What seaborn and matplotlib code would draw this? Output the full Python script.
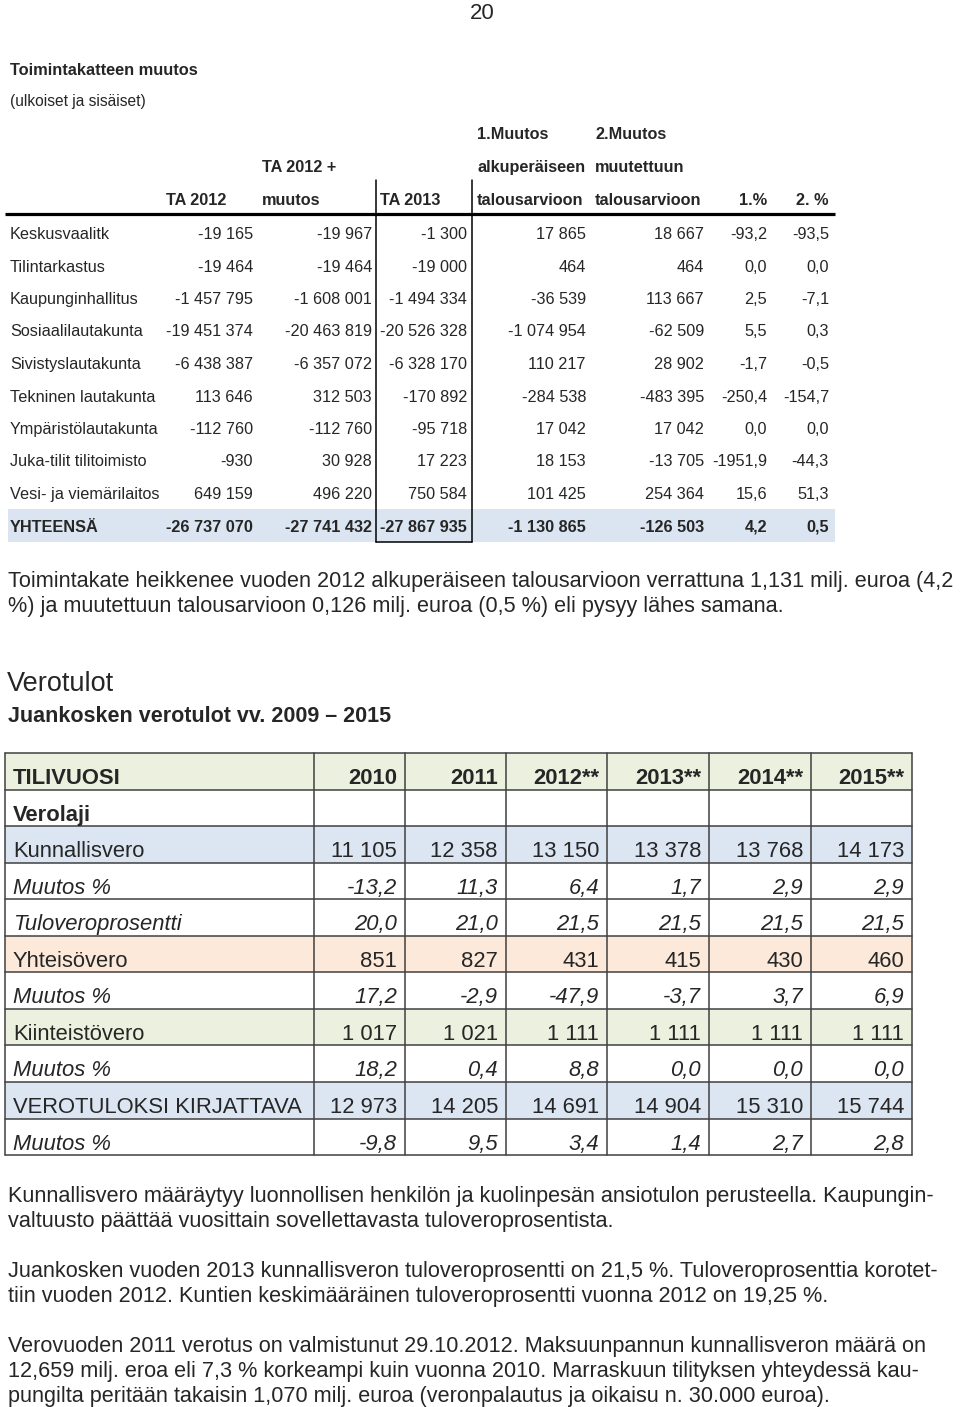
import matplotlib

matplotlib.use('Agg')

import numpy as np
import seaborn as sns
from matplotlib import pyplot as plt
from matplotlib.colors import ListedColormap

sns.set_style('white')
plt.rcParams['font.family'] = ['Liberation Sans', 'DejaVu Sans']

W, H = 960, 1407

# ---- Toimintakatteen muutos ----
labels1 = ["Keskusvaalitk", "Tilintarkastus", "Kaupunginhallitus", "Sosiaalilautakunta",
           "Sivistyslautakunta", "Tekninen lautakunta", "Ympäristölautakunta",
           "Juka-tilit tilitoimisto", "Vesi- ja viemärilaitos", "YHTEENSÄ"]
ta2012 = [-19165, -19464, -1457795, -19451374, -6438387, 113646, -112760, -930, 649159, -26737070]
ta2012_muutos = [-19967, -19464, -1608001, -20463819, -6357072, 312503, -112760, 30928, 496220, -27741432]
ta2013 = [-1300, -19000, -1494334, -20526328, -6328170, -170892, -95718, 17223, 750584, -27867935]
muutos1 = [17865, 464, -36539, -1074954, 110217, -284538, 17042, 18153, 101425, -1130865]
muutos2 = [18667, 464, 113667, -62509, 28902, -483395, 17042, -13705, 254364, -126503]
pct1 = [-93.2, 0.0, 2.5, 5.5, -1.7, -250.4, 0.0, -1951.9, 15.6, 4.2]
pct2 = [-93.5, 0.0, -7.1, 0.3, -0.5, -154.7, 0.0, -44.3, 51.3, 0.5]

# ---- Verotulot ----
years = ["2010", "2011", "2012**", "2013**", "2014**", "2015**"]
kunnallisvero = [11105, 12358, 13150, 13378, 13768, 14173]
kunnallis_muutos = [-13.2, 11.3, 6.4, 1.7, 2.9, 2.9]
tuloveropros = [20.0, 21.0, 21.5, 21.5, 21.5, 21.5]
yhteisovero = [851, 827, 431, 415, 430, 460]
yhteiso_muutos = [17.2, -2.9, -47.9, -3.7, 3.7, 6.9]
kiinteisto = [1017, 1021, 1111, 1111, 1111, 1111]
kiinteisto_muutos = [18.2, 0.4, 8.8, 0.0, 0.0, 0.0]
verotulot = [12973, 14205, 14691, 14904, 15310, 15744]
verotulot_muutos = [-9.8, 9.5, 3.4, 1.4, 2.7, 2.8]

para1 = ["Toimintakate heikkenee vuoden 2012 alkuperäiseen talousarvioon verrattuna 1,131 milj. euroa (4,2",
         "%) ja muutettuun talousarvioon 0,126 milj. euroa (0,5 %) eli pysyy lähes samana."]
para2 = ["Kunnallisvero määräytyy luonnollisen henkilön ja kuolinpesän ansiotulon perusteella. Kaupungin-",
         "valtuusto päättää vuosittain sovellettavasta tuloveroprosentista."]
para3 = ["Juankosken vuoden 2013 kunnallisveron tuloveroprosentti on 21,5 %. Tuloveroprosenttia korotet-",
         "tiin vuoden 2012. Kuntien keskimääräinen tuloveroprosentti vuonna 2012 on 19,25 %."]
para4 = ["Verovuoden 2011 verotus on valmistunut 29.10.2012. Maksuunpannun kunnallisveron määrä on",
         "12,659 milj. eroa eli 7,3 % korkeampi kuin vuonna 2010. Marraskuun tilityksen yhteydessä kau-",
         "pungilta peritään takaisin 1,070 milj. euroa (veronpalautus ja oikaisu n. 30.000 euroa)."]


def fmt_int(v):
    return f"{v:,}".replace(",", " ")


def fmt_pct(v):
    return f"{v:.1f}".replace(".", ",")


def px_axes(fig, x0, y0, x1, y1):
    return fig.add_axes([x0 / W, 1 - y1 / H, (x1 - x0) / W, (y1 - y0) / H])


fig = plt.figure(figsize=(W / 100, H / 100), dpi=100)

# row fills drawn as one-column heatmaps
t1_top, t1_step = 216.5, 32.5
ax_h1 = px_axes(fig, 8, t1_top, 835, t1_top + t1_step * len(labels1))
codes1 = np.array([0] * (len(labels1) - 1) + [1]).reshape(-1, 1)
sns.heatmap(codes1, ax=ax_h1, cmap=ListedColormap(["white", "#dbe5f1"]), vmin=0, vmax=1,
            cbar=False, xticklabels=False, yticklabels=False)

t2_top, t2_row = 753, 36.55
row_labels2 = ["TILIVUOSI", "Verolaji", "Kunnallisvero", "Muutos %", "Tuloveroprosentti",
               "Yhteisövero", "Muutos %", "Kiinteistövero", "Muutos %",
               "VEROTULOKSI KIRJATTAVA", "Muutos %"]
row_values2 = [years, None, kunnallisvero, kunnallis_muutos, tuloveropros, yhteisovero,
               yhteiso_muutos, kiinteisto, kiinteisto_muutos, verotulot, verotulot_muutos]
codes2 = np.array([1, 0, 2, 0, 0, 3, 0, 1, 0, 2, 0]).reshape(-1, 1)
ax_h2 = px_axes(fig, 5, t2_top, 912, t2_top + t2_row * len(row_labels2))
sns.heatmap(codes2, ax=ax_h2, cmap=ListedColormap(["white", "#ebf1de", "#dce6f2", "#fde9d9"]),
            vmin=0, vmax=3, cbar=False, xticklabels=False, yticklabels=False)

# overlay in pixel coordinates
ax = fig.add_axes([0, 0, 1, 1])
ax.set_xlim(0, W)
ax.set_ylim(H, 0)
ax.axis('off')
ax.patch.set_visible(False)

ax.text(482, 19, "20", fontsize=16, ha='center', va='baseline')
ax.text(10, 75, "Toimintakatteen muutos", fontsize=11.8, fontweight='bold', va='baseline')
ax.text(10, 106, "(ulkoiset ja sisäiset)", fontsize=11.2, va='baseline')

fs1 = 11.7
hdr = dict(fontsize=fs1, fontweight='bold', va='baseline')
ax.text(477, 139, "1.Muutos", **hdr)
ax.text(595, 139, "2.Muutos", **hdr)
ax.text(262, 172, "TA 2012 +", **hdr)
ax.text(477, 172, "alkuperäiseen", **hdr)
ax.text(595, 172, "muutettuun", **hdr)
ax.text(166, 205, "TA 2012", **hdr)
ax.text(262, 205, "muutos", **hdr)
ax.text(380, 205, "TA 2013", **hdr)
ax.text(477, 205, "talousarvioon", **hdr)
ax.text(595, 205, "talousarvioon", **hdr)
ax.text(767, 205, "1.%", ha='right', **hdr)
ax.text(829, 205, "2. %", ha='right', **hdr)

ax.plot([5, 835], [214, 214], color='black', lw=2.3, solid_capstyle='butt')
ax.plot([376, 376], [180, 541.5], color='black', lw=1.1)
ax.plot([472, 472], [180, 541.5], color='black', lw=1.1)
ax.plot([376, 472], [541.5, 541.5], color='black', lw=1.1)

cols1 = [(ta2012, 253, fmt_int), (ta2012_muutos, 372, fmt_int), (ta2013, 467, fmt_int),
         (muutos1, 586, fmt_int), (muutos2, 704, fmt_int), (pct1, 767, fmt_pct), (pct2, 829, fmt_pct)]
for i, lab in enumerate(labels1):
    yb = 239 + i * t1_step
    wt = 'bold' if lab == "YHTEENSÄ" else 'normal'
    ax.text(10, yb, lab, fontsize=fs1, fontweight=wt, va='baseline')
    for vals, xr, f in cols1:
        ax.text(xr, yb, f(vals[i]), fontsize=fs1, fontweight=wt, ha='right', va='baseline')

body = dict(fontsize=15.6, va='baseline')
for k, line in enumerate(para1):
    ax.text(8, 587 + k * 25, line, **body)

ax.text(7, 691, "Verotulot", fontsize=19.5, va='baseline')
ax.text(8, 722, "Juankosken verotulot vv. 2009 – 2015", fontsize=15.5, fontweight='bold',
        va='baseline')

# table 2 grid and text
col_edges = [5, 314, 405, 506, 607, 709, 811, 912]
t2_bottom = t2_top + t2_row * len(row_labels2)
gcol = '#404040'
for xe in col_edges:
    ax.plot([xe, xe], [t2_top, t2_bottom], color=gcol, lw=1.1)
for r in range(len(row_labels2) + 1):
    ye = t2_top + r * t2_row
    ax.plot([5, 912], [ye, ye], color=gcol, lw=1.1)

for r, lab in enumerate(row_labels2):
    yb = t2_top + (r + 1) * t2_row - 5.5
    italic = lab.startswith("Muutos") or lab == "Tuloveroprosentti"
    bold = lab in ("TILIVUOSI", "Verolaji")
    st = dict(fontsize=15.8, va='baseline', fontstyle='italic' if italic else 'normal',
              fontweight='bold' if bold else 'normal')
    ax.text(13, yb, lab, **st)
    vals = row_values2[r]
    if vals is None:
        continue
    for c, v in enumerate(vals):
        if isinstance(v, str):
            s = v
        elif isinstance(v, float):
            s = fmt_pct(v)
        else:
            s = fmt_int(v)
        ax.text(col_edges[c + 2] - 8, yb, s, ha='right', **st)

yb = 1202
for para in (para2, para3, para4):
    for line in para:
        ax.text(8, yb, line, **body)
        yb += 25
    yb += 25

fig.savefig("out.png", dpi=100)
